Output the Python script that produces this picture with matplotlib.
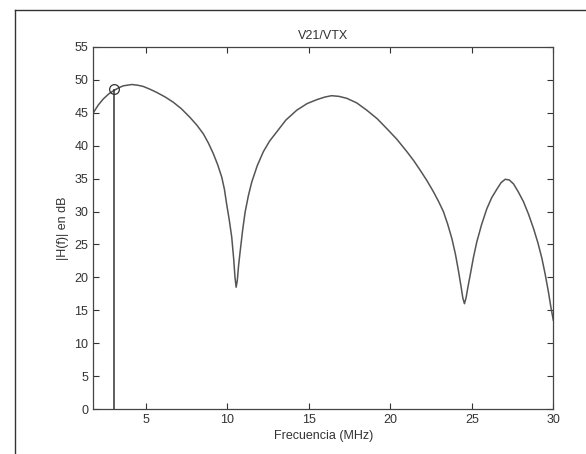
import matplotlib
matplotlib.use("Agg")
import matplotlib.pyplot as plt
from matplotlib.lines import Line2D

plt.rcParams['font.family'] = ['Liberation Sans', 'DejaVu Sans']

# Magnitude response |H(f)| in dB versus frequency in MHz
freq_mhz = [1.79, 2.10, 2.40, 2.75, 3.06, 3.35, 3.63, 4.15, 4.50, 4.86,
            5.25, 5.68, 6.20, 6.70, 7.20, 7.72, 8.15, 8.54, 8.85, 9.15,
            9.42, 9.67, 9.83, 9.97, 10.13, 10.28, 10.40, 10.48, 10.55, 10.62,
            10.70, 10.79, 10.95, 11.10, 11.30, 11.51, 11.85, 12.22, 12.60, 13.04,
            13.60, 14.27, 14.90, 15.50, 16.00, 16.40, 16.85, 17.34, 17.95, 18.56,
            19.20, 19.79, 20.40, 21.02, 21.45, 21.83, 22.25, 22.65, 22.95, 23.26,
            23.52, 23.78, 24.00, 24.19, 24.35, 24.45, 24.55, 24.65, 24.77, 24.90,
            25.10, 25.31, 25.60, 25.92, 26.22, 26.54, 26.80, 27.05, 27.30, 27.56,
            27.85, 28.17, 28.48, 28.79, 29.05, 29.30, 29.50, 29.70, 29.85, 30.00]
mag_db = [45.0, 46.2, 47.1, 47.9, 48.4, 48.8, 49.1, 49.3, 49.2, 49.0,
          48.6, 48.1, 47.4, 46.6, 45.6, 44.3, 43.1, 41.8, 40.4, 38.8,
          37.1, 35.2, 33.4, 31.1, 28.7, 26.1, 22.8, 20.0, 18.5, 19.5,
          21.8, 23.8, 27.2, 29.9, 32.4, 34.5, 37.0, 39.1, 40.7, 42.1,
          43.9, 45.4, 46.4, 47.0, 47.4, 47.6, 47.5, 47.2, 46.5, 45.4,
          44.1, 42.6, 41.0, 39.1, 37.7, 36.3, 34.7, 33.0, 31.6, 30.0,
          28.1, 25.9, 23.5, 20.9, 18.5, 16.9, 16.0, 16.9, 18.6, 20.3,
          23.0, 25.4, 28.0, 30.4, 32.1, 33.4, 34.4, 34.9, 34.8, 34.2,
          33.0, 31.5, 29.6, 27.4, 25.3, 22.9, 20.5, 17.8, 15.5, 13.5]

# Marked operating point
marker_f = [3.07]
marker_db = [48.6]

x_ticks = [5, 10, 15, 20, 25, 30]
y_ticks = list(range(0, 56, 5))

fig = plt.figure(figsize=(5.86, 4.54), dpi=100)
ax = fig.add_axes([0.1592, 0.0991, 0.7850, 0.7974])

line_col = '#555555'
ax.plot(freq_mhz, mag_db, color=line_col, lw=1.1)
ax.vlines(marker_f, 0, marker_db, color='#333333', lw=1.1)
ax.plot(marker_f, marker_db, 'o', mfc='none', mec='#333333', ms=7, mew=0.9)

ax.set_xlim(1.79, 30)
ax.set_ylim(0, 55)
ax.set_xticks(x_ticks)
ax.set_yticks(y_ticks)
ax.tick_params(direction='in', top=True, right=True, length=4, width=0.8,
               colors='#333333', labelsize=9, labelcolor='#333333')
for s in ax.spines.values():
    s.set_color('#444444')
    s.set_linewidth(0.9)

ax.set_title('V21/VTX', fontsize=9, color='#333333', pad=6)
ax.set_xlabel('Frecuencia (MHz)', fontsize=9, color='#333333', labelpad=3)
ax.set_ylabel('|H(f)| en dB', fontsize=9, color='#333333', labelpad=4)

# Outer frame lines along the top and left of the figure
fw, fh = 586, 454
fig.add_artist(Line2D([15 / fw, 1.0], [1 - 10 / fh, 1 - 10 / fh],
                      transform=fig.transFigure, color='#333333', lw=1))
fig.add_artist(Line2D([15 / fw, 15 / fw], [1 - 10 / fh, 0.0],
                      transform=fig.transFigure, color='#333333', lw=1))

fig.savefig('out.png', dpi=100)
